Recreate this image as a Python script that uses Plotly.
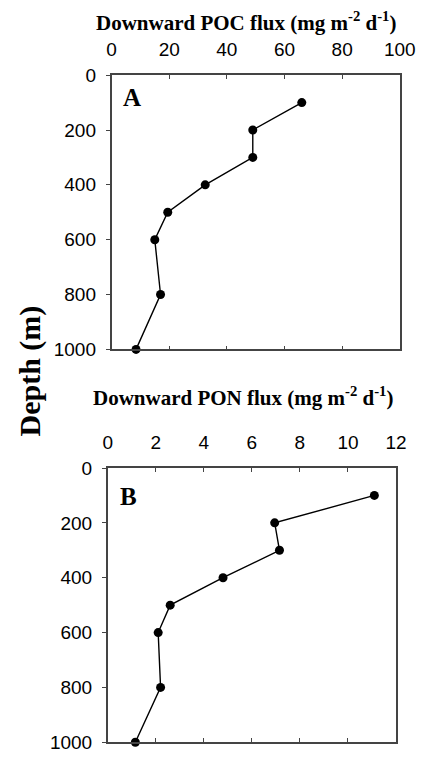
import plotly.graph_objects as go

depth = [100, 200, 300, 400, 500, 600, 800, 1000]
poc_flux = [66, 49, 49, 32.5, 19.5, 15, 17, 8.5]
pon_flux = [11.1, 6.95, 7.15, 4.8, 2.6, 2.1, 2.2, 1.15]

W, H = 431, 762
def px(x): return x / W
def py(y): return 1 - y / H

fig = go.Figure()
line = dict(color="black", width=1.4)
marker = dict(color="black", size=9)
fig.add_trace(go.Scatter(x=poc_flux, y=depth, mode="lines+markers", line=line,
                         marker=marker, xaxis="x", yaxis="y", cliponaxis=False,
                         showlegend=False))
fig.add_trace(go.Scatter(x=pon_flux, y=depth, mode="lines+markers", line=line,
                         marker=marker, xaxis="x2", yaxis="y2", cliponaxis=False,
                         showlegend=False))

tickfont = dict(family="Liberation Sans, Arial", size=19, color="black")
axcol = "#444"
xcommon = dict(side="top", showgrid=False, zeroline=False, showline=True,
               linecolor=axcol, linewidth=1.5, mirror="ticks", ticks="inside",
               ticklen=4, tickcolor=axcol, tickfont=tickfont, ticklabelstandoff=10)
ycommon = dict(showgrid=False, zeroline=False, showline=True, linecolor=axcol,
               linewidth=1.5, mirror=True, ticks="outside", ticklen=4,
               tickcolor=axcol, tickfont=tickfont, range=[1000, 0],
               tickvals=[0, 200, 400, 600, 800, 1000], ticklabelstandoff=6)

fig.update_layout(
    width=W, height=H, margin=dict(l=0, r=0, t=0, b=0),
    paper_bgcolor="white", plot_bgcolor="white",
    xaxis=dict(domain=[px(112), px(415)], range=[0, 100],
               tickvals=[0, 20, 40, 60, 80, 100], anchor="y", **xcommon),
    yaxis=dict(domain=[py(349), py(67)], anchor="x", **ycommon),
    xaxis2=dict(domain=[px(108), px(411)], range=[0, 12],
                tickvals=[0, 2, 4, 6, 8, 10, 12], anchor="y2", **xcommon),
    yaxis2=dict(domain=[py(753), py(471)], anchor="x2", **ycommon),
)

serif_b = "Liberation Serif, Times New Roman"
ann = [
    dict(x=px(253), y=py(12), text="<b>Downward POC flux (mg m<sup>-2</sup> d<sup>-1</sup>)</b>",
         font=dict(family=serif_b, size=21, color="black")),
    dict(x=px(250), y=py(397), text="<b>Downward PON flux (mg m<sup>-2</sup> d<sup>-1</sup>)</b>",
         font=dict(family=serif_b, size=21, color="black")),
    dict(x=px(26), y=py(371), text="<b>Depth (m)</b>", textangle=-90,
         font=dict(family=serif_b, size=30, color="black")),
    dict(x=px(134), y=py(90), text="<b>A</b>", font=dict(family=serif_b, size=25, color="black")),
    dict(x=px(130), y=py(500), text="<b>B</b>", font=dict(family=serif_b, size=25, color="black")),
]
for a in ann:
    a.update(xref="paper", yref="paper", showarrow=False, xanchor="center", yanchor="middle")
fig.update_layout(annotations=ann)

fig.write_html("out.html")
